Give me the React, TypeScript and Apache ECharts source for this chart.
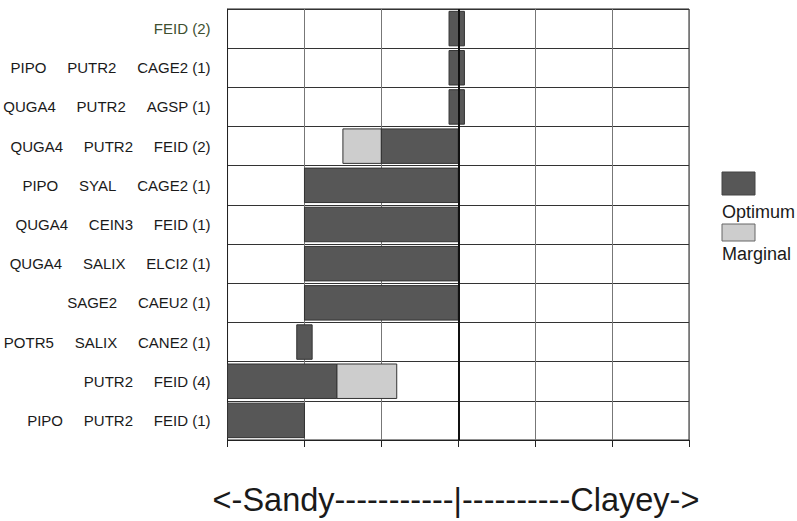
import React, { useEffect, useRef } from "react";
import * as echarts from "echarts";

const categories: string[][] = [
  ["FEID (2)"],
  ["PIPO", "PUTR2", "CAGE2 (1)"],
  ["QUGA4", "PUTR2", "AGSP (1)"],
  ["QUGA4", "PUTR2", "FEID (2)"],
  ["PIPO", "SYAL", "CAGE2 (1)"],
  ["QUGA4", "CEIN3", "FEID (1)"],
  ["QUGA4", "SALIX", "ELCI2 (1)"],
  ["SAGE2", "CAEU2 (1)"],
  ["POTR5", "SALIX", "CANE2 (1)"],
  ["PUTR2", "FEID (4)"],
  ["PIPO", "PUTR2", "FEID (1)"],
];

const optimumLow = [2.88, 2.88, 2.88, 2.0, 1.0, 1.0, 1.0, 1.0, 0.9, 0.0, 0.0];
const optimumHigh = [3.08, 3.08, 3.08, 3.0, 3.0, 3.0, 3.0, 3.0, 1.1, 1.42, 1.0];
const marginalLow: (number | null)[] = [null, null, null, 1.5, null, null, null, null, null, 1.42, null];
const marginalHigh: (number | null)[] = [null, null, null, 2.0, null, null, null, null, null, 2.2, null];

const xTicks = [0, 1, 2, 3, 4, 5, 6];
const axisCaption = "<-Sandy-----------|----------Clayey->";
const legendNames = ["Optimum", "Marginal"];

const FONT = "'Liberation Sans', Arial, Helvetica, sans-serif";
const SP = "\u00a0\u00a0\u00a0\u00a0\u00a0";

export default function App() {
  const ref = useRef<HTMLDivElement>(null);

  useEffect(() => {
    if (!ref.current) return;
    const chart = echarts.init(ref.current, undefined, { renderer: "svg" });

    const labels = categories.map((c) => c.join(SP));
    const optData = labels.map((_, i) => [i, optimumLow[i], optimumHigh[i]]);
    const margData = labels
      .map((_, i) => (marginalLow[i] == null ? null : [i, marginalLow[i], marginalHigh[i]]))
      .filter((d) => d !== null) as number[][];

    const makeRender = (fill: string) => (params: any, api: any) => {
      const cat = api.value(0);
      const start = api.coord([api.value(1), cat]);
      const end = api.coord([api.value(2), cat]);
      const h = api.size([0, 1])[1] * 0.88;
      return {
        type: "rect",
        shape: { x: start[0], y: start[1] - h / 2, width: end[0] - start[0], height: h },
        style: { fill, stroke: "#333", lineWidth: 1 },
      };
    };

    chart.setOption({
      animation: false,
      backgroundColor: "#fff",
      grid: {
        left: 227,
        right: 108,
        top: 9,
        bottom: 81,
        show: true,
        borderColor: "#222",
        borderWidth: 1,
        backgroundColor: "transparent",
      },
      xAxis: {
        type: "value",
        min: xTicks[0],
        max: xTicks[xTicks.length - 1],
        interval: 1,
        axisLine: { show: true, lineStyle: { color: "#222", width: 1 } },
        axisTick: { show: true, length: 7, lineStyle: { color: "#222", width: 1 } },
        axisLabel: { show: false },
        splitLine: { show: true, lineStyle: { color: "#777", width: 1 } },
      },
      yAxis: {
        type: "category",
        inverse: true,
        data: labels,
        axisLine: { show: true, lineStyle: { color: "#222", width: 1 } },
        axisTick: { show: false },
        splitLine: { show: true, lineStyle: { color: "#333", width: 1 } },
        axisLabel: {
          fontFamily: FONT,
          fontSize: 15,
          margin: 17,
          color: (_v: any, i: number) => (i === 0 ? "#3e5030" : "#1a1a1a"),
        },
      },
      series: [
        {
          name: legendNames[1],
          type: "custom",
          renderItem: makeRender("#cdcdcd"),
          encode: { x: [1, 2], y: 0 },
          data: margData,
          z: 3,
        },
        {
          name: legendNames[0],
          type: "custom",
          renderItem: makeRender("#575757"),
          encode: { x: [1, 2], y: 0 },
          data: optData,
          z: 3,
          markLine: {
            silent: true,
            symbol: "none",
            label: { show: false },
            lineStyle: { color: "#111", width: 2, type: "solid" },
            data: [{ xAxis: 3 }],
            z: 5,
          },
        },
      ],
      graphic: [
        {
          type: "rect",
          shape: { x: 722, y: 172, width: 33, height: 23 },
          style: { fill: "#575757", stroke: "#444", lineWidth: 1 },
        },
        {
          type: "text",
          x: 722,
          y: 212,
          style: {
            text: legendNames[0],
            fontFamily: FONT,
            fontSize: 18,
            fill: "#1a1a1a",
            verticalAlign: "middle",
            align: "left",
          },
        },
        {
          type: "rect",
          shape: { x: 722, y: 224, width: 33, height: 17 },
          style: { fill: "#cdcdcd", stroke: "#666", lineWidth: 1 },
        },
        {
          type: "text",
          x: 722,
          y: 254,
          style: {
            text: legendNames[1],
            fontFamily: FONT,
            fontSize: 18,
            fill: "#1a1a1a",
            verticalAlign: "middle",
            align: "left",
          },
        },
        {
          type: "text",
          x: 456,
          y: 500,
          style: {
            text: axisCaption,
            fontFamily: FONT,
            fontSize: 32.5,
            fill: "#1a1a1a",
            align: "center",
            verticalAlign: "middle",
          },
        },
      ],
    });

    return () => chart.dispose();
  }, []);

  return (
    <div
      ref={ref}
      style={{ position: "fixed", left: 0, top: 0, width: 797, height: 521, background: "#fff" }}
    />
  );
}
